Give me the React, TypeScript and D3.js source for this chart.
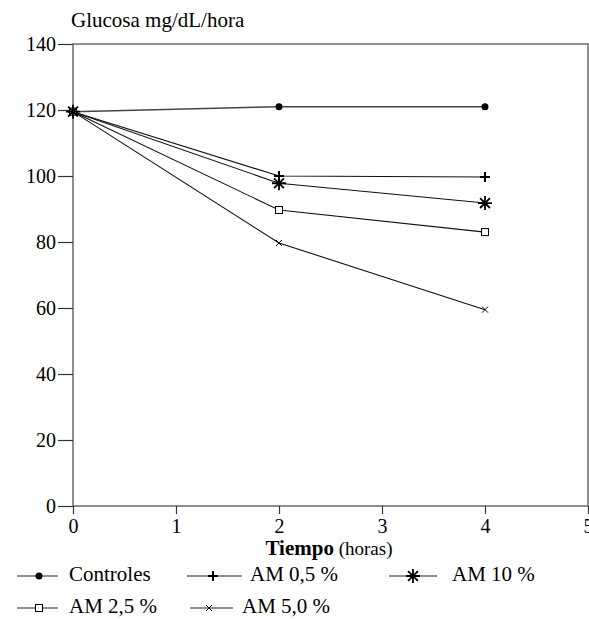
import * as d3 from 'd3';
import { useEffect, useRef } from 'react';

const hours = [0, 2, 4];
const controles = [119.5, 121, 121];
const am05 = [119.5, 100, 99.7];
const am10 = [119.5, 97.8, 91.8];
const am25 = [119.5, 89.7, 83];
const am50 = [119.5, 79.7, 59.5];

const yTicks = [0, 20, 40, 60, 80, 100, 120, 140];
const xTicks = [0, 1, 2, 3, 4, 5];

const series = [
  { name: 'Controles', values: controles, marker: 'dot' },
  { name: 'AM 0,5 %', values: am05, marker: 'plus' },
  { name: 'AM 10 %', values: am10, marker: 'star' },
  { name: 'AM 2,5 %', values: am25, marker: 'square' },
  { name: 'AM 5,0 %', values: am50, marker: 'cross' }
];

// draw order of the markers, so the asterisk stays on top at t = 0
const markerOrder = [0, 1, 3, 4, 2];

const legendPos = [
  { x0: 17, x1: 58, m: 39, tx: 69, y: 576 },
  { x0: 187, x1: 242, m: 213, tx: 250, y: 576 },
  { x0: 389, x1: 437, m: 413, tx: 452, y: 576 },
  { x0: 17, x1: 58, m: 39, tx: 69, y: 608 },
  { x0: 190, x1: 233, m: 209, tx: 242, y: 608 }
];

const FONT = 'Times New Roman, Times, Liberation Serif, DejaVu Serif, serif';

function drawMarker(g, type, x, y) {
  if (type === 'dot') {
    g.append('circle').attr('cx', x).attr('cy', y).attr('r', 3.5).attr('fill', '#000');
  } else if (type === 'plus') {
    g.append('path')
      .attr('d', `M${x - 5},${y}H${x + 5}M${x},${y - 5}V${y + 5}`)
      .attr('stroke', '#000')
      .attr('stroke-width', 2);
  } else if (type === 'star') {
    const r = 7;
    const d = d3
      .range(4)
      .map((i) => {
        const a = (i * Math.PI) / 4;
        const dx = r * Math.cos(a);
        const dy = r * Math.sin(a);
        return `M${x - dx},${y - dy}L${x + dx},${y + dy}`;
      })
      .join('');
    g.append('path').attr('d', d).attr('stroke', '#000').attr('stroke-width', 1.8);
  } else if (type === 'square') {
    g.append('rect')
      .attr('x', x - 3.5)
      .attr('y', y - 3.5)
      .attr('width', 7)
      .attr('height', 7)
      .attr('fill', '#fff')
      .attr('stroke', '#000')
      .attr('stroke-width', 1);
  } else if (type === 'cross') {
    g.append('path')
      .attr('d', `M${x - 3},${y - 3}L${x + 3},${y + 3}M${x - 3},${y + 3}L${x + 3},${y - 3}`)
      .attr('stroke', '#000')
      .attr('stroke-width', 1);
  }
}

export default function App() {
  const ref = useRef(null);

  useEffect(() => {
    const svg = d3.select(ref.current);
    svg.selectAll('*').remove();

    const left = 73;
    const right = 588;
    const top = 44;
    const bottom = 506;

    const x = d3.scaleLinear().domain([0, 5]).range([left, right]);
    const y = d3.scaleLinear().domain([0, 140]).range([bottom, top]);

    // frame
    svg
      .append('rect')
      .attr('x', left)
      .attr('y', top)
      .attr('width', right - left)
      .attr('height', bottom - top)
      .attr('fill', 'none')
      .attr('stroke', '#6a6a6a')
      .attr('stroke-width', 1.5);

    const yAxis = svg
      .append('g')
      .attr('transform', `translate(${left},0)`)
      .call(d3.axisLeft(y).tickValues(yTicks).tickSize(15).tickPadding(2).tickFormat(d3.format('d')));
    yAxis.attr('font-family', FONT).attr('font-size', 20);
    yAxis.select('.domain').remove();
    yAxis.selectAll('line').attr('stroke', '#333').attr('stroke-width', 1.2);
    yAxis.selectAll('text').attr('fill', '#000');

    const xAxis = svg
      .append('g')
      .attr('transform', `translate(0,${bottom})`)
      .call(d3.axisBottom(x).tickValues(xTicks).tickSize(8).tickPadding(5).tickFormat(d3.format('d')));
    xAxis.attr('font-family', FONT).attr('font-size', 20);
    xAxis.select('.domain').remove();
    xAxis.selectAll('line').attr('stroke', '#333').attr('stroke-width', 1.2);
    xAxis.selectAll('text').attr('fill', '#000');

    svg
      .append('text')
      .attr('x', 71)
      .attr('y', 27)
      .attr('font-family', FONT)
      .attr('font-size', 21)
      .text('Glucosa mg/dL/hora');

    const xl = svg
      .append('text')
      .attr('x', 329)
      .attr('y', 555)
      .attr('text-anchor', 'middle')
      .attr('font-family', FONT);
    xl.append('tspan').attr('font-size', 21).attr('font-weight', 'bold').text('Tiempo');
    xl.append('tspan').attr('font-size', 19).text(' (horas)');

    const line = d3
      .line()
      .x((d) => x(d[0]))
      .y((d) => y(d[1]));

    series.forEach((s) => {
      const pts = hours.map((h, i) => [h, s.values[i]]);
      svg
        .append('path')
        .attr('d', line(pts))
        .attr('fill', 'none')
        .attr('stroke', s.marker === 'dot' ? '#444' : '#111')
        .attr('stroke-width', s.marker === 'dot' ? 1.5 : 1.1);
    });

    markerOrder.forEach((k) => {
      const s = series[k];
      const g = svg.append('g');
      hours.forEach((h, i) => drawMarker(g, s.marker, x(h), y(s.values[i])));
    });

    // legend
    series.forEach((s, i) => {
      const p = legendPos[i];
      const g = svg.append('g');
      g.append('line')
        .attr('x1', p.x0)
        .attr('x2', p.x1)
        .attr('y1', p.y)
        .attr('y2', p.y)
        .attr('stroke', '#222')
        .attr('stroke-width', 1.1);
      drawMarker(g, s.marker, p.m, p.y);
      g.append('text')
        .attr('x', p.tx)
        .attr('y', p.y + 5)
        .attr('font-family', FONT)
        .attr('font-size', 21)
        .text(s.name);
    });
  }, []);

  return (
    <svg
      ref={ref}
      width={589}
      height={619}
      style={{ position: 'absolute', left: 0, top: 0, background: '#fff' }}
    />
  );
}
